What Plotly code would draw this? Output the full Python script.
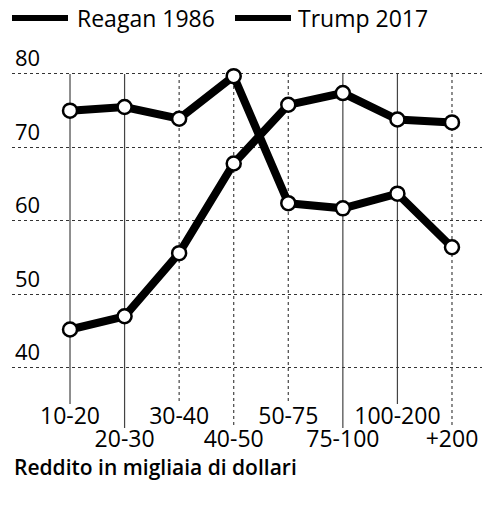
import plotly.graph_objects as go

categories = ["10-20", "20-30", "30-40", "40-50", "50-75", "75-100", "100-200", "+200"]
reagan_1986 = [75.0, 75.5, 73.9, 79.7, 62.4, 61.7, 63.7, 56.4]
trump_2017 = [45.2, 47.0, 55.6, 67.8, 75.8, 77.4, 73.8, 73.4]
series_names = ["Reagan 1986", "Trump 2017"]
y_ticks = [40, 50, 60, 70, 80]
x_title = "Reddito in migliaia di dollari"

FONT = "Open Sans"
W, H = 482, 507
ML, MR, MT, MB = 12, 0, 60, 107
Y0, Y1 = 35.6, 81.9
X0, X1 = -1.063, 7.55
idx = list(range(len(categories)))

fig = go.Figure()
for k, (name, vals) in enumerate(zip(series_names, [reagan_1986, trump_2017])):
    fig.add_trace(go.Scatter(
        x=idx, y=vals, name=name, xaxis="x" if k == 0 else "x2",
        mode="lines+markers",
        line=dict(color="black", width=8),
        marker=dict(size=14, color="white", line=dict(color="black", width=2.5)),
        cliponaxis=False, showlegend=False,
    ))

# vertical grid lines reaching the staggered labels
plot_h = H - MT - MB
plot_w = W - ML - MR
top_paper = (max(y_ticks) - Y0) / (Y1 - Y0)
for i in idx:
    bottom_px = 404 if i % 2 == 0 else 428
    fig.add_shape(type="line", xref="x", yref="paper",
                  x0=i, x1=i, y0=top_paper, y1=-(bottom_px - (H - MB)) / plot_h,
                  line=dict(color="#444", width=1.2, dash="solid" if i in (0, 1, 5, 6) else "dot"),
                  layer="below")

# legend drawn as line samples + text
leg_x = [(12, 68, 75), (235, 291, 296)]
for (a, b, t), name in zip(leg_x, series_names):
    yl = (H - MB - 18) / plot_h
    fig.add_shape(type="line", xref="paper", yref="paper",
                  x0=(a - ML) / plot_w, x1=(b - ML) / plot_w, y0=yl, y1=yl,
                  line=dict(color="black", width=6))
    fig.add_annotation(xref="paper", yref="paper", x=(t - ML) / plot_w, y=yl,
                       text=name, showarrow=False, xanchor="left", yanchor="middle",
                       font=dict(family=FONT, size=23, color="black"))

fig.add_annotation(xref="paper", yref="paper", x=0, y=-(467 - (H - MB)) / plot_h,
                   text=x_title, showarrow=False, xanchor="left", yanchor="middle",
                   font=dict(family=FONT, size=21, color="black", weight=600))

tickfont = dict(family=FONT, size=23, color="black")
common = dict(range=[X0, X1], tickmode="array", showgrid=False, zeroline=False,
              showline=False, ticks="", tickangle=0, automargin=False, tickfont=tickfont)
fig.update_layout(
    xaxis=dict(tickvals=idx[0::2], ticktext=categories[0::2], ticklabelstandoff=0, **common),
    xaxis2=dict(tickvals=idx[1::2], ticktext=categories[1::2], ticklabelstandoff=23,
                overlaying="x", matches="x", side="bottom", anchor="y", **common),
)
fig.update_yaxes(range=[Y0, Y1], tickmode="array", tickvals=y_ticks,
                 ticklabelposition="inside top", ticklabeloverflow="allow",
                 showgrid=True, gridcolor="#333", griddash="dot", gridwidth=1.3,
                 zeroline=False, showline=False, ticks="", automargin=False,
                 tickfont=dict(family=FONT, size=22, color="black"))
fig.update_layout(width=W, height=H, margin=dict(l=ML, r=MR, t=MT, b=MB),
                  plot_bgcolor="white", paper_bgcolor="white", showlegend=False)
fig.write_html("out.html", config={"displayModeBar": False},
               post_script="document.body.style.margin='0';")
